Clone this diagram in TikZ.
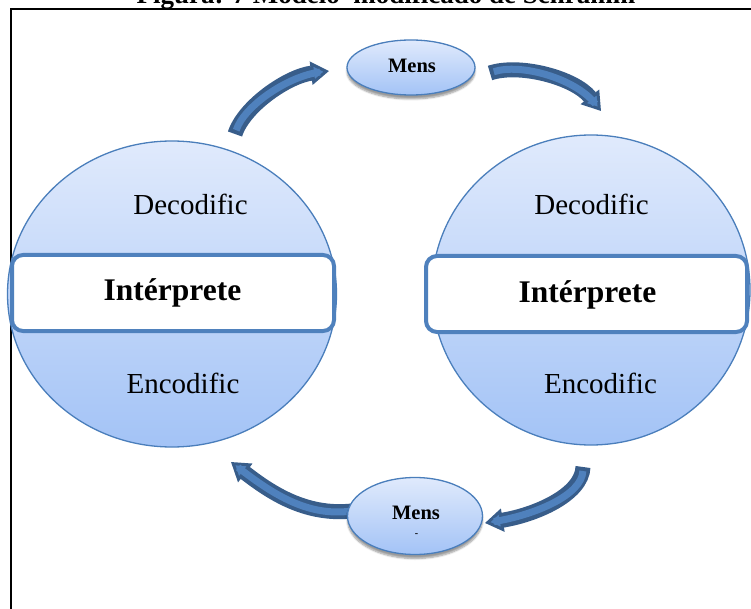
\documentclass[tikz,border=0pt]{standalone}
\usepackage{fontspec}
\setmainfont{Liberation Serif}
\usetikzlibrary{shapes.geometric,arrows.meta,shadows.blur}

\definecolor{edgeblue}{HTML}{4A7EBB}
\definecolor{arrowdark}{HTML}{385D8A}
\definecolor{arrowmid}{HTML}{4F81BD}
\definecolor{filltop}{HTML}{E0EAFC}
\definecolor{fillbottom}{HTML}{A3C3F6}
\definecolor{rectedge}{HTML}{4F81BD}

\begin{document}
\begin{tikzpicture}[x=1pt,y=1pt,
  agent/.style={ellipse, draw=edgeblue, line width=1.3pt,
    top color=filltop, bottom color=fillbottom, inner sep=0pt},
  msg/.style={agent,
    blur shadow={shadow xshift=0pt, shadow yshift=-4pt,
      shadow opacity=40, shadow blur steps=6}},
  band/.style={rectangle, rounded corners=11pt, draw=rectedge,
    line width=4pt, fill=white, inner sep=0pt},
  codetext/.style={font=\fontsize{29}{33}\selectfont, anchor=base, inner sep=0pt},
  roletext/.style={font=\fontsize{31.5}{36}\selectfont\bfseries, anchor=base, inner sep=0pt},
  msgtext/.style={font=\fontsize{20.5}{24}\selectfont\bfseries, anchor=base, inner sep=0pt},
  fatarrow/.style={draw=arrowdark, line width=15pt,
    -{Triangle[length=18pt, width=23pt, line width=3pt, fill=arrowmid]},
    postaction={draw=arrowmid, line width=7pt, -, shorten <=4pt, shorten >=9pt}}
]
\useasboundingbox (0,0) rectangle (751,-609);

% caption (its upper part lies above the page)
\node[font=\fontsize{27}{30}\selectfont\bfseries, anchor=base, inner sep=0pt]
  (title) at (386,-3.5) {Figura: 7 Modelo\ \ modificado de Schramm};

% frame
\draw[line width=2.2pt] (751,-9) -| (11,-609);

% the two interpreters
\node[agent, minimum width=329pt, minimum height=306pt] (left) at (172,-294) {};
\node[agent, minimum width=318pt, minimum height=310pt] (right) at (591,-290) {};

\node[band, minimum width=322pt, minimum height=76pt] (leftband) at (173,-293) {};
\node[band, minimum width=321pt, minimum height=76pt] (rightband) at (586.5,-294) {};

% labels
\node[codetext] (decL) at (190.5,-215) {Decodific};
\node[codetext] (encL) at (183,-393) {Encodific};
\node[roletext] (intL) at (172.5,-300) {Intérprete};

\node[codetext] (decR) at (591.5,-215) {Decodific};
\node[codetext] (encR) at (600.5,-393) {Encodific};
\node[roletext] (intR) at (587.5,-302) {Intérprete};

% arrow end points
\coordinate (a1s) at (235,-134);
\coordinate (a1e) at (329,-71);
\coordinate (a2s) at (490,-73);
\coordinate (a2e) at (601,-111);
\coordinate (a3s) at (583,-467);
\coordinate (a3e) at (485,-523);
\coordinate (a4s) at (352,-511);
\coordinate (a4e) at (231,-462);

% curved block arrows
\draw[fatarrow] (a1s) .. controls (244,-106) and (288,-76) .. (a1e);
\draw[fatarrow] (a2s) .. controls (520,-63) and (575,-78) .. (a2e);
\draw[fatarrow] (a3s) .. controls (582,-495) and (535,-515) .. (a3e);
\draw[fatarrow] (a4s) .. controls (305,-516) and (270,-492) .. (a4e);

% messages
\node[msg, minimum width=128pt, minimum height=55pt] (mtop) at (411,-67.5) {};
\node[msgtext] (mtopt) at (412,-73) {Mens};

\node[msg, minimum width=135pt, minimum height=77pt] (mbot) at (415,-516) {};
\node[msgtext] (mbott) at (416,-519) {Mens};
\node[font=\fontsize{10}{12}\selectfont\bfseries, anchor=base, inner sep=0pt]
  (mbotd) at (416.5,-536) {-};
\end{tikzpicture}
\end{document}
